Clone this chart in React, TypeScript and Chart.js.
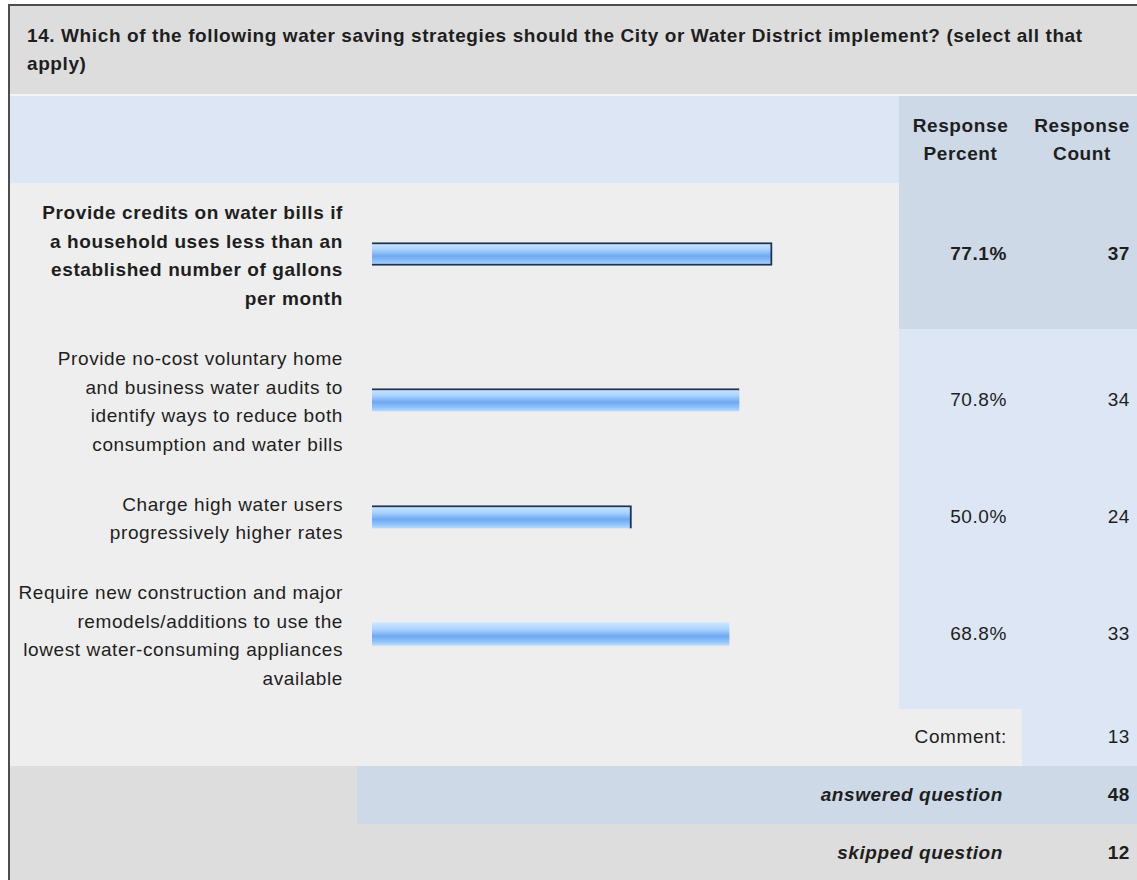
import React, { useEffect, useRef } from "react";
import { Chart, registerables } from "chart.js";

Chart.register(...registerables);

const TITLE_LINES = [
  "14. Which of the following water saving strategies should the City or Water District implement? (select all that",
  "apply)",
];
const HEADER_PERCENT = ["Response", "Percent"];
const HEADER_COUNT = ["Response", "Count"];
const CATEGORIES: string[][] = [
  ["Provide credits on water bills if", "a household uses less than an", "established number of gallons", "per month"],
  ["Provide no-cost voluntary home", "and business water audits to", "identify ways to reduce both", "consumption and water bills"],
  ["Charge high water users", "progressively higher rates"],
  ["Require new construction and major", "remodels/additions to use the", "lowest water-consuming appliances", "available"],
];
const PERCENTS = [77.1, 70.8, 50.0, 68.8];
const COUNTS = [37, 34, 24, 33];
const COMMENT_LABEL = "Comment:";
const COMMENT_COUNT = 13;
const ANSWERED_LABEL = "answered question";
const ANSWERED = 48;
const SKIPPED_LABEL = "skipped question";
const SKIPPED = 12;

// style-only settings
const BAR_EDGES = [
  { top: 2, right: 2, bottom: 2, left: 0 },
  { top: 2, right: 0, bottom: 0, left: 0 },
  { top: 2, right: 2, bottom: 0, left: 0 },
  { top: 0, right: 0, bottom: 0, left: 0 },
];
const ROW_HEIGHTS = [146, 146, 88, 146];
const FONT = "'Liberation Sans', Arial, sans-serif";
const TEXT = "#1e1e1e";

function BarCell({ value, edges, height }: { value: number; edges: any; height: number }) {
  const ref = useRef<HTMLCanvasElement | null>(null);
  useEffect(() => {
    if (!ref.current) return;
    const thickness = 23;
    const chart = new Chart(ref.current, {
      type: "bar",
      data: {
        labels: [""],
        datasets: [
          {
            data: [value],
            backgroundColor: (ctx: any) => {
              const area = ctx.chart.chartArea;
              if (!area) return "#8fc0f8";
              const c = (area.top + area.bottom) / 2;
              const g = ctx.chart.ctx.createLinearGradient(0, c - thickness / 2, 0, c + thickness / 2);
              g.addColorStop(0, "#cfe8ff");
              g.addColorStop(0.3, "#aad3fe");
              g.addColorStop(0.6, "#6ea9f2");
              g.addColorStop(0.85, "#95c6fb");
              g.addColorStop(1, "#bcdcff");
              return g;
            },
            borderColor: "#1d3352",
            borderWidth: edges,
            borderSkipped: false,
            barThickness: thickness,
          },
        ],
      },
      options: {
        indexAxis: "y",
        animation: false,
        responsive: false,
        maintainAspectRatio: false,
        layout: { padding: { top: 0, bottom: 4, left: 0, right: 0 } },
        plugins: { legend: { display: false }, tooltip: { enabled: false } },
        scales: {
          x: { display: false, min: 0, max: 100 },
          y: { display: false },
        },
      },
    });
    return () => chart.destroy();
  }, [value]);
  return <canvas ref={ref} width={519} height={height} style={{ width: 519, height, display: "block" }} />;
}

function Box({ x, y, w, h, bg, children, style }: any) {
  return (
    <div
      style={{
        position: "absolute",
        left: x,
        top: y,
        width: w,
        height: h,
        background: bg,
        ...style,
      }}
    >
      {children}
    </div>
  );
}

function TextBlock({ lines, right, left, center, w, y, h, bold, italic, lh = 28.5 }: any) {
  return (
    <div
      style={{
        position: "absolute",
        left: left,
        width: w,
        top: y,
        height: h,
        display: "flex",
        flexDirection: "column",
        justifyContent: "center",
        alignItems: center ? "center" : right ? "flex-end" : "flex-start",
        fontFamily: FONT,
        fontSize: 19,
        letterSpacing: "0.6px",
        lineHeight: lh + "px",
        fontWeight: bold ? 700 : 400,
        fontStyle: italic ? "italic" : "normal",
        color: TEXT,
        whiteSpace: "pre",
        textAlign: center ? "center" : right ? "right" : "left",
      }}
    >
      {lines.map((l: string, i: number) => (
        <div key={i}>{l}</div>
      ))}
    </div>
  );
}

export default function App() {
  const rowTops: number[] = [];
  let acc = 183;
  for (const h of ROW_HEIGHTS) {
    rowTops.push(acc);
    acc += h;
  }
  const commentTop = acc;
  const answeredTop = commentTop + 57;
  const skippedTop = answeredTop + 58;
  const RIGHT = 1142;

  return (
    <div
      style={{
        position: "fixed",
        left: 0,
        top: 0,
        width: 1137,
        height: 880,
        overflow: "hidden",
        background: "#ffffff",
      }}
    >
      {/* outer border */}
      <Box x={8} y={4} w={2} h={900} bg="#4d4d4d" />
      <Box x={8} y={4} w={1140} h={2} bg="#4d4d4d" />
      {/* title */}
      <Box x={10} y={6} w={RIGHT - 10} h={88} bg="#dddddd" />
      <TextBlock lines={TITLE_LINES} left={27} w={1100} y={6} h={88} bold lh={28} />
      <Box x={10} y={94} w={RIGHT - 10} h={2} bg="#f4f4f4" />
      {/* header */}
      <Box x={10} y={96} w={889} h={87} bg="#dce6f4" />
      <Box x={899} y={96} w={RIGHT - 899} h={87} bg="#cdd9e6" />
      <TextBlock lines={HEADER_PERCENT} left={899} w={123} y={96} h={87} bold center lh={28} />
      <TextBlock lines={HEADER_COUNT} left={1022} w={120} y={96} h={87} bold center lh={28} />
      {/* rows */}
      {CATEGORIES.map((lines, i) => {
        const top = rowTops[i];
        const h = ROW_HEIGHTS[i];
        const hi = i === 0;
        const rbg = hi ? "#cdd9e6" : "#dce6f4";
        return (
          <React.Fragment key={i}>
            <Box x={10} y={top} w={889} h={h} bg="#eeeeee" />
            <Box x={899} y={top} w={RIGHT - 899} h={h} bg={rbg} />
            <TextBlock lines={lines} left={10} w={333} y={top} h={h} right bold={hi} />
            <Box x={372} y={top} w={519} h={h}>
              <BarCell value={PERCENTS[i]} edges={BAR_EDGES[i]} height={h} />
            </Box>
            <TextBlock lines={[PERCENTS[i].toFixed(1) + "%"]} left={899} w={108} y={top - 2} h={h} right bold={hi} />
            <TextBlock lines={[String(COUNTS[i])]} left={1022} w={108} y={top - 2} h={h} right bold={hi} />
          </React.Fragment>
        );
      })}
      {/* comment row */}
      <Box x={10} y={commentTop} w={1012} h={57} bg="#eeeeee" />
      <Box x={1022} y={commentTop} w={RIGHT - 1022} h={57} bg="#dce6f4" />
      <TextBlock lines={[COMMENT_LABEL]} left={10} w={997} y={commentTop} h={57} right />
      <TextBlock lines={[String(COMMENT_COUNT)]} left={1022} w={108} y={commentTop} h={57} right />
      {/* answered */}
      <Box x={10} y={answeredTop} w={347} h={58} bg="#dddddd" />
      <Box x={357} y={answeredTop} w={RIGHT - 357} h={58} bg="#cdd9e6" />
      <TextBlock lines={[ANSWERED_LABEL]} left={357} w={646} y={answeredTop} h={58} right bold italic />
      <TextBlock lines={[String(ANSWERED)]} left={1022} w={108} y={answeredTop} h={58} right bold />
      {/* skipped */}
      <Box x={10} y={skippedTop} w={RIGHT - 10} h={80} bg="#dddddd" />
      <TextBlock lines={[SKIPPED_LABEL]} left={357} w={646} y={skippedTop} h={58} right bold italic />
      <TextBlock lines={[String(SKIPPED)]} left={1022} w={108} y={skippedTop} h={58} right bold />
    </div>
  );
}
